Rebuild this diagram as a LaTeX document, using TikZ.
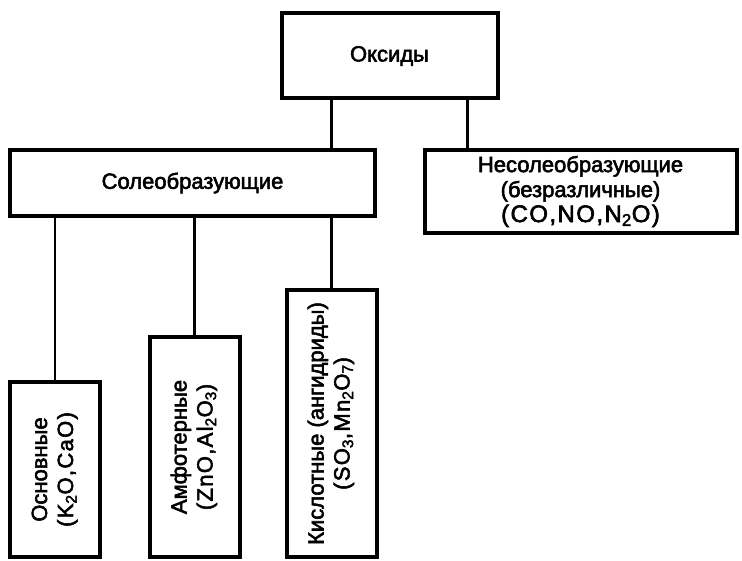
\documentclass[tikz,border=0pt]{standalone}
\usepackage{fontspec}
\setmainfont{Liberation Sans}[FakeBold=2.5]
\usepackage{graphicx}

\newcommand{\formula}[1]{{\addfontfeature{LetterSpace=6}#1}}
\newcommand{\vlabel}[2]{\rotatebox{90}{\begin{tabular}{@{}c@{}}#1\\[1pt]\formula{#2}\end{tabular}}}

\begin{document}
\begin{tikzpicture}[
      x=1pt, y=-1pt,
      font=\fontsize{22}{25}\selectfont,
      box/.style={draw, line width=4pt, align=center, inner sep=2pt},
      vbox/.style={box, minimum width=90pt},
      link/.style={line width=2.6pt}
    ]
      \useasboundingbox (0,0) rectangle (742,561);
      \node[box, minimum width=216pt, minimum height=85pt] (oxides) at (389.5,56) {Оксиды};
      \node[box, minimum width=365pt, minimum height=66pt] (salt) at (192.5,183) {Солеобразующие};
      \node[box, minimum width=312pt, minimum height=83pt] (nosalt) at (580.5,191.5)
        {Несолеобразующие\\(безразличные)\\{\fontsize{24}{25}\selectfont\formula{(CO,NO,N\textsubscript{2}O)}}};
      \node[vbox, minimum height=175pt] (basic) at (55,469.5)
        {\vlabel{Основные}{(K\textsubscript{2}O,CaO)}};
      \node[vbox, minimum height=220pt] (amph) at (194.5,447)
        {\vlabel{Амфотерные}{(ZnO,Al\textsubscript{2}O\textsubscript{3})}};
      \node[vbox, minimum height=267pt] (acid) at (331.5,423.5)
        {\vlabel{Кислотные (ангидриды)}{(SO\textsubscript{3},Mn\textsubscript{2}O\textsubscript{7})}};
      % links
      \draw[link] (oxides.south -| acid.north) -- (salt.north -| acid.north);
      \draw[link] ([xshift=-113pt]nosalt.north |- oxides.south) -- ([xshift=-113pt]nosalt.north);
      \foreach \n in {basic, amph, acid}
        \draw[link] (salt.south -| \n.north) -- (\n.north);
    \end{tikzpicture}
\end{document}
